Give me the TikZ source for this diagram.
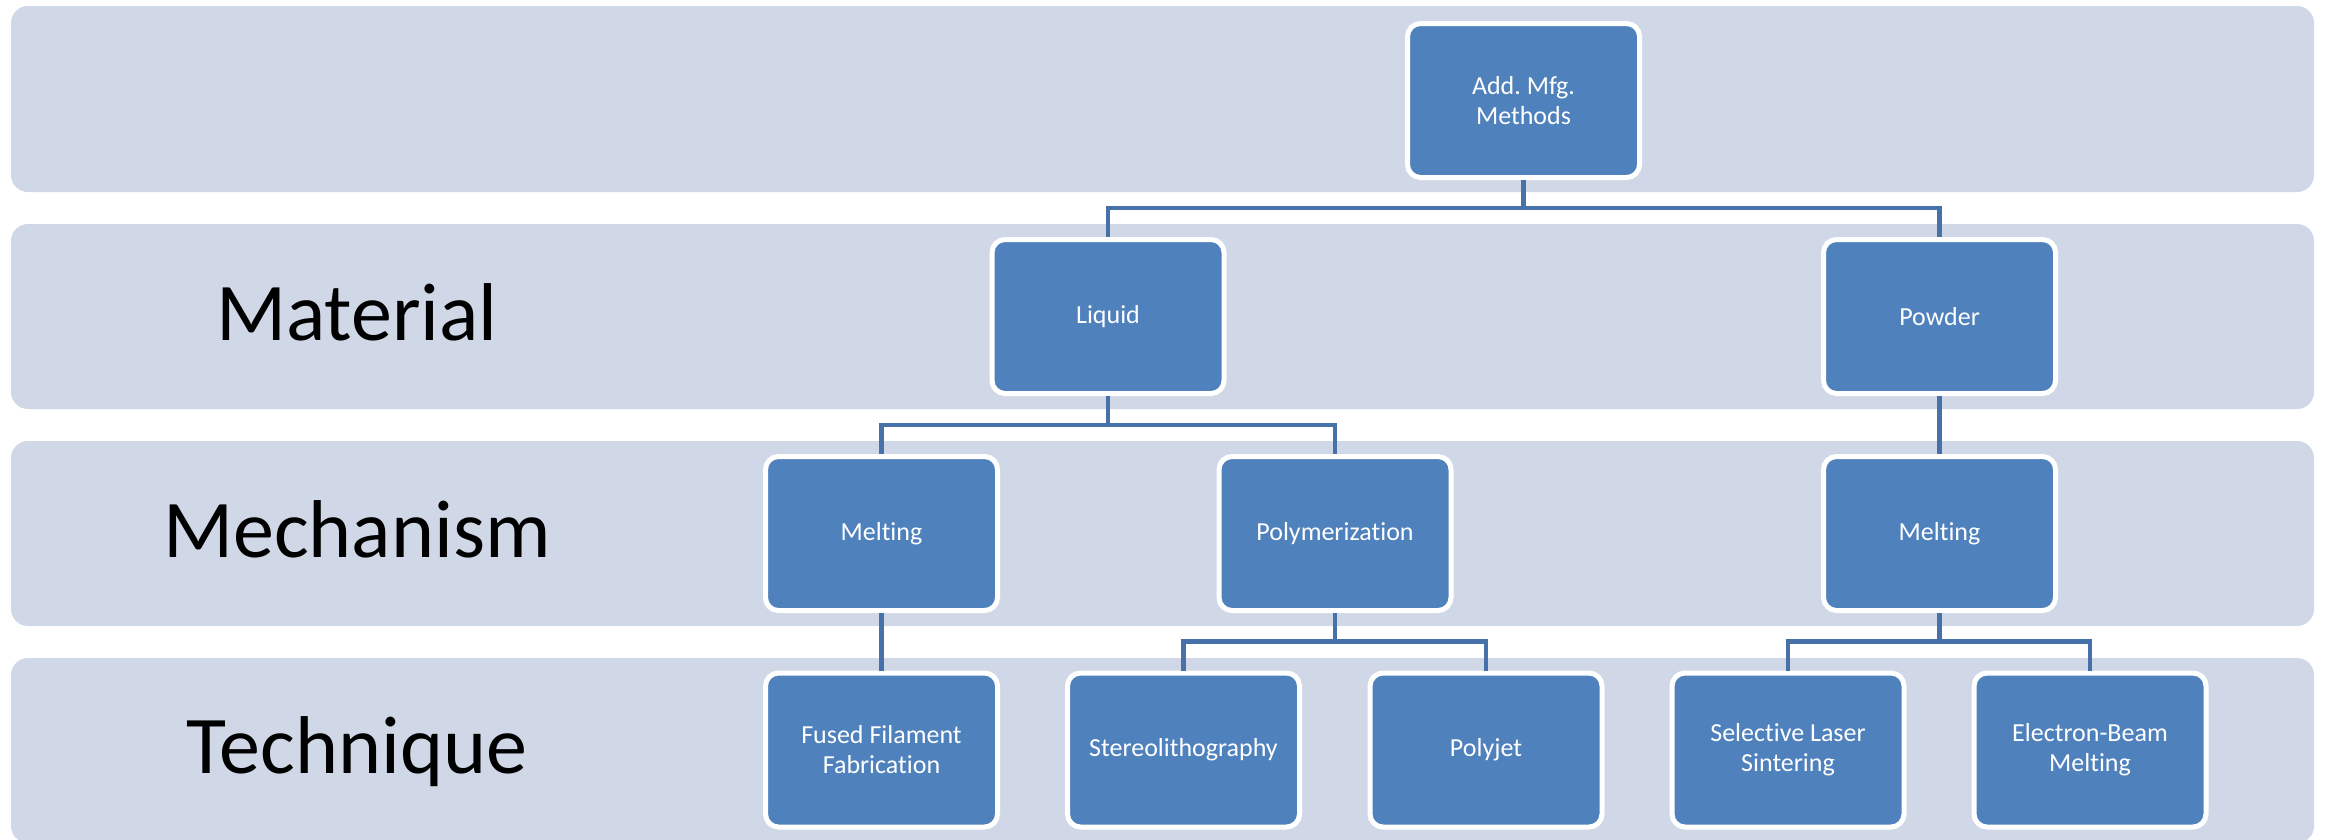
\documentclass[tikz,border=0pt]{standalone}
\usepackage{fontspec}
\setmainfont[RawFeature={-liga;-clig;-dlig}]{Carlito}
\definecolor{bandfill}{HTML}{D0D8E8}
\definecolor{boxfill}{HTML}{4F81BD}
\definecolor{connline}{HTML}{4672A9}
\frenchspacing
\begin{document}
\begin{tikzpicture}[x=1pt,y=-1pt,
  band/.style={fill=bandfill,draw=none,rounded corners=17pt},
  tbox/.style={rectangle,fill=boxfill,draw=white,line width=5pt,rounded corners=13pt,
    minimum width=232pt,minimum height=154pt,inner sep=0pt,text=white,align=center,
    font=\fontsize{26}{30}\selectfont},
  rowlabel/.style={anchor=base,text=black,inner sep=0pt,font=\fontsize{82}{90}\selectfont},
  conn/.style={draw=connline,line width=4.7pt,line cap=butt,line join=miter}]
\useasboundingbox (0,0) rectangle (2330,839);
\clip (0,0) rectangle (2330,839);
% bands
\path[band] (11,6) rectangle (2314,192);
\path[band] (11,224) rectangle (2314,409);
\path[band] (11,441) rectangle (2314,626);
\path[band] (11,658) rectangle (2314,843);
% row labels
\node[rowlabel] (lmat) at (357,340) {Material};
\node[rowlabel] (lmech) at (357,557) {Mechanism};
\node[rowlabel] (ltech) at (357,773) {Technique};
% boxes
\node[tbox] (add) at (1523.5,100.5) {Add. Mfg.\\Methods};
\node[tbox] (liquid) at (1108,316.5) {Liquid};
\node[tbox] (powder) at (1939.5,316.5) {Powder};
\node[tbox] (melt1) at (881.5,533.5) {Melting};
\node[tbox] (poly) at (1335,533.5) {Polymerization};
\node[tbox] (melt2) at (1939.5,533.5) {Melting};
\node[tbox] (fff) at (881.5,750) {Fused Filament\\Fabrication};
\node[tbox] (sla) at (1183.5,750) {Stereolithography};
\node[tbox] (pjet) at (1486,750) {Polyjet};
\node[tbox] (sls) at (1788,750) {Selective Laser\\Sintering};
\node[tbox] (ebm) at (2090,750) {Electron-Beam\\Melting};
% bus levels
\coordinate (bus1) at (0,208);
\coordinate (bus2) at (0,425);
\coordinate (bus3) at (0,641.5);
% connectors
\draw[conn] (add.south) -- (add.south |- bus1);
\draw[conn] (liquid.north) -- (liquid.north |- bus1) -- (powder.north |- bus1) -- (powder.north);
\draw[conn] (liquid.south) -- (liquid.south |- bus2);
\draw[conn] (melt1.north) -- (melt1.north |- bus2) -- (poly.north |- bus2) -- (poly.north);
\draw[conn] (powder.south) -- (melt2.north);
\draw[conn] (melt1.south) -- (fff.north);
\draw[conn] (poly.south) -- (poly.south |- bus3);
\draw[conn] (sla.north) -- (sla.north |- bus3) -- (pjet.north |- bus3) -- (pjet.north);
\draw[conn] (melt2.south) -- (melt2.south |- bus3);
\draw[conn] (sls.north) -- (sls.north |- bus3) -- (ebm.north |- bus3) -- (ebm.north);
\end{tikzpicture}
\end{document}
